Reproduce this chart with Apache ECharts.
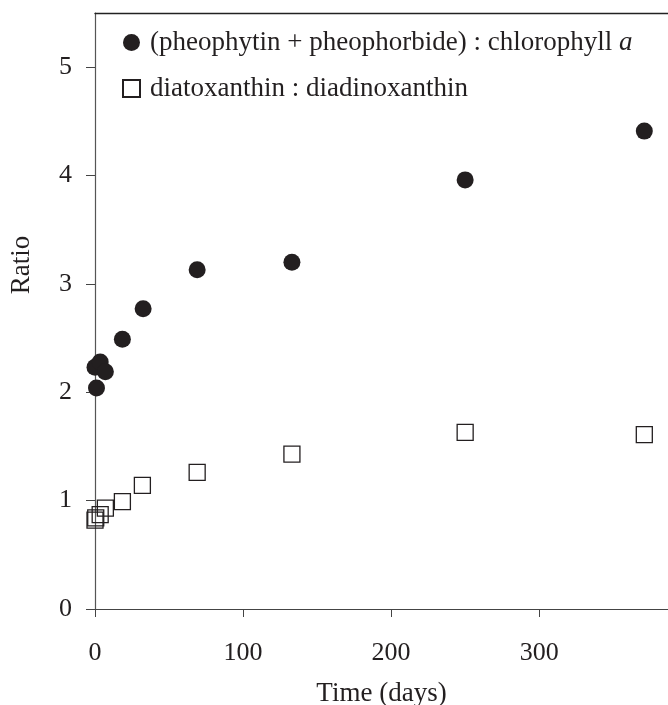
<!DOCTYPE html>
<html>
<head>
<meta charset="utf-8">
<title>Ratio vs time</title>
<script src="https://cdn.jsdelivr.net/npm/echarts@6/dist/echarts.min.js"></script>
<style>
	html, body { margin: 0; padding: 0; background: #fff; }
	#chart { width: 668px; height: 705px; }
</style>
</head>
<body>
<div id="chart"></div>
<script>
	// 时间 (days)
	const pheoDays = [0, 1, 3.5, 7, 18.5, 32.5, 69, 133, 250, 371]
	const pheoRatio = [2.23, 2.04, 2.28, 2.19, 2.49, 2.77, 3.13, 3.20, 3.96, 4.41]

	const diatoDays = [0, 0.5, 3.5, 7, 18.5, 32, 69, 133, 250, 371]
	const diatoRatio = [0.82, 0.84, 0.87, 0.93, 0.99, 1.14, 1.26, 1.43, 1.63, 1.61]

	const xTicks = [0, 100, 200, 300]
	const yTicks = [0, 1, 2, 3, 4, 5]

	const serif = '"Liberation Serif", "DejaVu Serif", serif'
	const ink = '#231f20'

	const chart = echarts.init(document.getElementById('chart'))

	const toPairs = (xs, ys) => xs.map((x, i) => [x, ys[i]])

	const option = {
		animation: false,
		backgroundColor: '#fff',
		textStyle: { fontFamily: serif, color: ink },
		grid: {
			left: 95,
			top: 13,
			right: 0,
			bottom: 96,
			outerBoundsMode: 'none'
		},
		legend: {
			orient: 'vertical',
			left: 117,
			top: 24,
			itemWidth: 27,
			itemHeight: 17,
			itemGap: 19,
			textStyle: {
				fontFamily: serif,
				fontSize: 27,
				color: ink,
				rich: {
					n: { fontFamily: serif, fontSize: 27, color: ink },
					i: { fontFamily: serif, fontSize: 27, color: ink, fontStyle: 'italic' }
				}
			},
			formatter: (name) => {
				if (name === 'pheo') return '{n|(pheophytin + pheophorbide) : chlorophyll }{i|a}'
				return '{n|diatoxanthin : diadinoxanthin}'
			},
			data: [
				{ name: 'pheo' },
				{ name: 'diato', icon: 'path://M0,0L10,0L10,10L0,10Z' }
			]
		},
		xAxis: [
			{
				type: 'value',
				min: 0,
				max: 387,
				name: 'Time (days)',
				nameLocation: 'middle',
				nameGap: 71,
				nameTextStyle: { fontFamily: serif, fontSize: 27, color: ink, verticalAlign: 'top' },
				axisLine: { show: true, lineStyle: { color: '#444', width: 1.2 } },
				axisTick: { show: true, length: 8, customValues: xTicks, lineStyle: { color: '#444' } },
				axisLabel: { customValues: xTicks, margin: 31, fontFamily: serif, fontSize: 26, color: ink },
				splitLine: { show: false }
			},
			{
				type: 'value',
				position: 'top',
				min: 0,
				max: 387,
				axisLine: { show: true, lineStyle: { color: '#222', width: 1.4 } },
				axisTick: { show: false },
				axisLabel: { show: false },
				splitLine: { show: false }
			}
		],
		yAxis: {
			type: 'value',
			min: 0,
			max: 5.5,
			axisLine: { show: true, lineStyle: { color: '#555', width: 1.2 } },
			axisTick: { show: true, length: 9, customValues: yTicks, lineStyle: { color: '#444' } },
			axisLabel: { customValues: yTicks, margin: 23, fontFamily: serif, fontSize: 26, color: ink },
			splitLine: { show: false }
		},
		graphic: [
			{
				type: 'text',
				x: 22,
				y: 265,
				rotation: Math.PI / 2,
				style: {
					text: 'Ratio',
					font: '27px "Liberation Serif", serif',
					fill: ink,
					align: 'center',
					verticalAlign: 'middle'
				}
			}
		],
		series: [
			{
				name: 'pheo',
				type: 'scatter',
				symbol: 'circle',
				symbolSize: 17,
				itemStyle: { color: ink, opacity: 1 },
				data: toPairs(pheoDays, pheoRatio)
			},
			{
				name: 'diato',
				type: 'scatter',
				symbol: 'rect',
				symbolSize: 16,
				itemStyle: { color: 'rgba(0,0,0,0)', borderColor: ink, borderWidth: 1.3, opacity: 1 },
				data: toPairs(diatoDays, diatoRatio)
			}
		]
	}

	chart.setOption(option)
</script>
</body>
</html>
